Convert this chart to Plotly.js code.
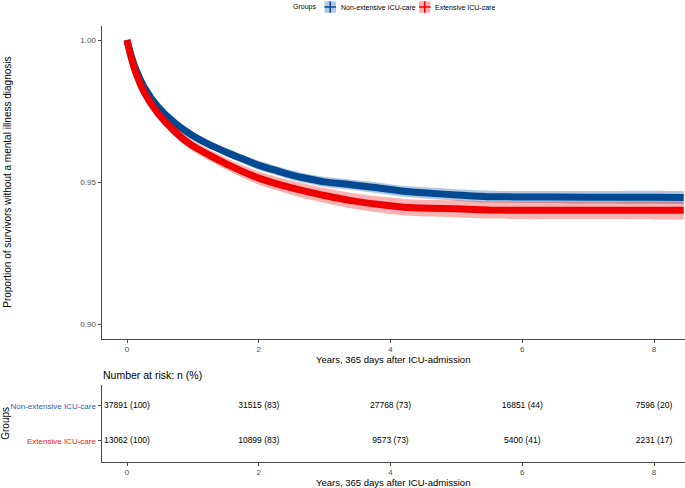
<!DOCTYPE html>
<html>
<head>
<meta charset="utf-8">
<script src="https://cdn.plot.ly/plotly-3.0.1.min.js"></script>
<style>html,body{margin:0;padding:0;background:#fff;}#chart{width:685px;height:488px;}</style>
</head>
<body>
<div id="chart"></div>
<script>
// ---- Data ----
const groupNames = ["Non-extensive ICU-care", "Extensive ICU-care"];
const years = [0, 0.05, 0.12, 0.27, 0.47, 0.73, 0.98, 1.25, 1.49, 1.75, 1.99, 2.25, 2.5, 2.75, 3.0, 3.4, 3.8, 4.2, 4.6, 5.0, 5.5, 6.0, 7.0, 8.0, 8.45];
const survNonExt = [1.0, 0.9955, 0.9906, 0.983, 0.9765, 0.9707, 0.9666, 0.9632, 0.9607, 0.9582, 0.956, 0.9542, 0.9525, 0.9512, 0.9501, 0.9491, 0.9480, 0.9468, 0.9461, 0.9455, 0.9449, 0.9448, 0.9447, 0.9447, 0.9446];
const survExt = [1.0, 0.995, 0.9894, 0.9812, 0.9742, 0.9677, 0.963, 0.9595, 0.9566, 0.9538, 0.9515, 0.9496, 0.948, 0.9466, 0.9453, 0.9435, 0.9422, 0.9412, 0.9408, 0.9406, 0.9402, 0.9401, 0.9401, 0.9401, 0.9401];
const ciHalfNonExt = [0, 0.0003, 0.0005, 0.0007, 0.0009, 0.0011, 0.0012, 0.0013, 0.0014, 0.0015, 0.0016, 0.0016, 0.0017, 0.0017, 0.0018, 0.0018, 0.0019, 0.0019, 0.002, 0.002, 0.0021, 0.0021, 0.0022, 0.0023, 0.0023];
const ciHalfExt = [0, 0.0005, 0.0008, 0.0011, 0.0014, 0.0017, 0.0019, 0.002, 0.0021, 0.0022, 0.0023, 0.0024, 0.0025, 0.0026, 0.0026, 0.0027, 0.0028, 0.0029, 0.0029, 0.003, 0.003, 0.0031, 0.0031, 0.0032, 0.0032];

const riskYears = [0, 2, 4, 6, 8];
const riskNNonExt = [37891, 31515, 27768, 16851, 7596];
const riskPctNonExt = [100, 83, 73, 44, 20];
const riskNExt = [13062, 10899, 9573, 5400, 2231];
const riskPctExt = [100, 83, 73, 41, 17];

const yTicks = [0.90, 0.95, 1.00];
const xTicks = [0, 2, 4, 6, 8];

// ---- Styling ----
const blueLine = "#034A93";
const redLine = "#EE0000";
const blueBand = "rgba(3,74,147,0.3)";
const redBand = "rgba(238,0,0,0.3)";
const blueText = "#2F62A6";
const redText = "#EE1818";
const FONT = "Liberation Sans, Arial, sans-serif";
const W = 685, H = 488;
const px = x => x / W;
const py = y => (H - y) / H;
const SHAPE = {shape: "spline", smoothing: 0.6};

function band(x, s, h, fill, name) {
  const lo = s.map((v, i) => v - h[i]);
  const hi = s.map((v, i) => v + h[i]);
  return [
    {x: x, y: lo, type: "scatter", mode: "lines", line: Object.assign({width: 0, color: fill}, SHAPE), hoverinfo: "skip", showlegend: false, xaxis: "x", yaxis: "y"},
    {x: x, y: hi, type: "scatter", mode: "lines", fill: "tonexty", fillcolor: fill, line: Object.assign({width: 0, color: fill}, SHAPE), hoverinfo: "skip", showlegend: false, name: name, xaxis: "x", yaxis: "y"}
  ];
}

const traces = [];
traces.push(...band(years, survNonExt, ciHalfNonExt, blueBand, groupNames[0] + " CI"));
traces.push({x: years, y: survNonExt, type: "scatter", mode: "lines", line: Object.assign({color: blueLine, width: 7}, SHAPE), name: groupNames[0], showlegend: false, xaxis: "x", yaxis: "y"});
traces.push(...band(years, survExt, ciHalfExt, redBand, groupNames[1] + " CI"));
traces.push({x: years, y: survExt, type: "scatter", mode: "lines", line: Object.assign({color: redLine, width: 7}, SHAPE), name: groupNames[1], showlegend: false, xaxis: "x", yaxis: "y"});

// risk table
traces.push({x: riskYears, y: riskYears.map(() => 1), type: "scatter", mode: "text",
  text: riskNNonExt.map((n, i) => n + " (" + riskPctNonExt[i] + ")"),
  textfont: {family: FONT, size: 8.5, color: "#000"}, textposition: "middle center",
  showlegend: false, hoverinfo: "skip", xaxis: "x2", yaxis: "y2"});
traces.push({x: riskYears, y: riskYears.map(() => 0), type: "scatter", mode: "text",
  text: riskNExt.map((n, i) => n + " (" + riskPctExt[i] + ")"),
  textfont: {family: FONT, size: 8.5, color: "#000"}, textposition: "middle center",
  showlegend: false, hoverinfo: "skip", xaxis: "x2", yaxis: "y2"});

const axisLine = {showline: true, linecolor: "#4a4a4a", linewidth: 1, ticks: "outside", ticklen: 3, tickcolor: "#4a4a4a", tickwidth: 1, showgrid: false, zeroline: false};
const xRange = [-0.387, 8.47];

const layout = {
  width: W, height: H,
  margin: {l: 0, r: 0, t: 0, b: 0},
  paper_bgcolor: "#fff", plot_bgcolor: "#fff",
  font: {family: FONT, color: "#000"},
  showlegend: false,
  xaxis: Object.assign({}, axisLine, {domain: [px(101.5), 1], range: xRange, tickvals: xTicks, ticktext: xTicks.map(String),
    tickfont: {size: 8, color: "#4D4D4D"}, anchor: "y",
    title: {text: "Years, 365 days after ICU-admission", font: {size: 9.5, color: "#000"}, standoff: 0}}),
  yaxis: Object.assign({}, axisLine, {domain: [py(338.5), py(25.8)], range: [0.895, 1.005], tickvals: yTicks, ticktext: yTicks.map(v => v.toFixed(2)),
    tickfont: {size: 8, color: "#4D4D4D"}, anchor: "x",
    title: {text: "Proportion of survivors without a mental illness diagnosis", font: {size: 10, color: "#000"}, standoff: 66}}),
  xaxis2: Object.assign({}, axisLine, {domain: [px(101.5), 1], range: xRange, tickvals: xTicks, ticktext: xTicks.map(String),
    tickfont: {size: 8, color: "#4D4D4D"}, anchor: "y2",
    title: {text: "Years, 365 days after ICU-admission", font: {size: 9.5, color: "#000"}, standoff: 1}}),
  yaxis2: Object.assign({}, axisLine, {domain: [py(461.7), py(385)], range: [-0.6, 1.6], tickvals: [1, 0],
    ticktext: ['<span style="color:' + blueText + '">' + groupNames[0] + '</span>', '<span style="color:' + redText + '">' + groupNames[1] + '</span>'],
    tickfont: {size: 8}, anchor: "x2",
    title: {text: "Groups", font: {size: 10, color: "#000"}, standoff: 2}}),
  annotations: [
    {xref: "paper", yref: "paper", x: px(101), y: py(375), xanchor: "left", yanchor: "middle", showarrow: false,
     text: "Number at risk: n (%)", font: {size: 10.5, color: "#000"}},
    {xref: "paper", yref: "paper", x: px(291), y: py(7), xanchor: "left", yanchor: "middle", showarrow: false,
     text: "Groups", font: {size: 7, color: "#000"}},
    {xref: "paper", yref: "paper", x: px(339), y: py(7), xanchor: "left", yanchor: "middle", showarrow: false,
     text: groupNames[0], font: {size: 7, color: "#000"}},
    {xref: "paper", yref: "paper", x: px(433), y: py(7), xanchor: "left", yanchor: "middle", showarrow: false,
     text: groupNames[1], font: {size: 7, color: "#000"}}
  ],
  shapes: [
    {type: "rect", xref: "paper", yref: "paper", x0: px(324.5), x1: px(336), y0: py(12.8), y1: py(1.3), fillcolor: blueBand, line: {width: 0}},
    {type: "line", xref: "paper", yref: "paper", x0: px(324.5), x1: px(336), y0: py(7), y1: py(7), line: {color: blueLine, width: 1.5}},
    {type: "line", xref: "paper", yref: "paper", x0: px(330.2), x1: px(330.2), y0: py(12.8), y1: py(1.3), line: {color: blueLine, width: 1.5}},
    {type: "rect", xref: "paper", yref: "paper", x0: px(419), x1: px(430.5), y0: py(12.8), y1: py(1.3), fillcolor: redBand, line: {width: 0}},
    {type: "line", xref: "paper", yref: "paper", x0: px(419), x1: px(430.5), y0: py(7), y1: py(7), line: {color: redLine, width: 1.5}},
    {type: "line", xref: "paper", yref: "paper", x0: px(424.7), x1: px(424.7), y0: py(12.8), y1: py(1.3), line: {color: redLine, width: 1.5}}
  ]
};

Plotly.newPlot("chart", traces, layout, {staticPlot: true, displayModeBar: false});
</script>
</body>
</html>
